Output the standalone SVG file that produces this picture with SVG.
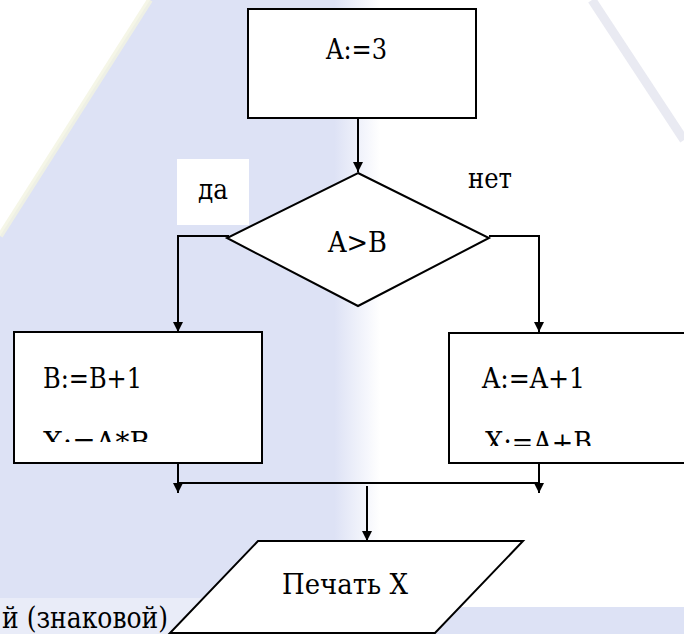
<svg xmlns="http://www.w3.org/2000/svg" width="684" height="634" viewBox="0 0 684 634">
  <style>
    .shape { fill: #ffffff; stroke: #000000; stroke-width: 2; }
    .conn { fill: none; stroke: #000000; stroke-width: 2; }
    text { font-family: 'DejaVu Serif', serif; font-size: 28px; fill: #000000; }
  </style>
  <defs>
    <marker id="arr" markerUnits="userSpaceOnUse" markerWidth="10" markerHeight="10" refX="10" refY="5" orient="auto">
      <path d="M0,0 L10,5 L0,10 z" fill="#000000"/>
    </marker>
    <clipPath id="clipL"><rect x="14" y="332" width="248" height="110"/></clipPath>
    <clipPath id="clipR"><rect x="449" y="333" width="235" height="113"/></clipPath>
    <linearGradient id="edgeL" x1="0" y1="0" x2="1" y2="0">
      <stop offset="0" stop-color="#dde2f5"/>
      <stop offset="0.88" stop-color="#dde2f5"/>
      <stop offset="1" stop-color="#dde2f5" stop-opacity="0"/>
    </linearGradient>
  </defs>

  <g id="background">
    <rect x="0" y="0" width="684" height="634" fill="#ffffff"/>
    <rect x="0" y="0" width="380" height="598" fill="url(#edgeL)"/>
    <rect x="0" y="598" width="380" height="36" fill="#e9ecf8"/>
    <rect x="370" y="607" width="314" height="27" fill="#dde2f5"/>
    <polygon points="0,0 150,0 0,236" fill="#ffffff"/>
    <line x1="150" y1="0" x2="0" y2="236" stroke="#f3f4e2" stroke-width="6" opacity="0.8"/>
    <line x1="592" y1="0" x2="684" y2="140" stroke="#e4e5ef" stroke-width="9" opacity="0.8"/>
  </g>

  <g id="connectors">
    <path class="conn" d="M358,118 V172" marker-end="url(#arr)"/>
    <path class="conn" d="M229,236 H178 V332" marker-end="url(#arr)"/>
    <path class="conn" d="M489,236 H539 V332" marker-end="url(#arr)"/>
    <path class="conn" d="M178,463 V493" marker-end="url(#arr)"/>
    <path class="conn" d="M539,463 V493" marker-end="url(#arr)"/>
    <path class="conn" d="M178,483 H539"/>
    <path class="conn" d="M367,486 V541" marker-end="url(#arr)"/>
  </g>

  <g id="label-da">
    <rect x="177" y="159" width="72" height="66" fill="#ffffff"/>
    <text x="198" y="199" textLength="30" lengthAdjust="spacingAndGlyphs">да</text>
  </g>
  <g id="label-net">
    <text x="468" y="188" textLength="44" lengthAdjust="spacingAndGlyphs">нет</text>
  </g>

  <g id="node-start">
    <rect class="shape" x="248" y="9" width="228" height="109"/>
    <text x="326" y="59" textLength="61" lengthAdjust="spacingAndGlyphs">A:=3</text>
  </g>

  <g id="node-cond">
    <polygon class="shape" points="358,173 489,238 358,306 227,238"/>
    <text x="328" y="252" textLength="59" lengthAdjust="spacingAndGlyphs">A&gt;B</text>
  </g>

  <g id="node-yes">
    <rect class="shape" x="14" y="332" width="248" height="131"/>
    <text x="43" y="388" textLength="99" lengthAdjust="spacingAndGlyphs">B:=B+1</text>
    <text x="43" y="452" textLength="107" lengthAdjust="spacingAndGlyphs" clip-path="url(#clipL)">X:=A*B</text>
  </g>

  <g id="node-no">
    <rect class="shape" x="449" y="333" width="250" height="130"/>
    <text x="482" y="388" textLength="103" lengthAdjust="spacingAndGlyphs">A:=A+1</text>
    <text x="485" y="452" textLength="107" lengthAdjust="spacingAndGlyphs" clip-path="url(#clipR)">X:=A+B</text>
  </g>

  <g id="caption">
    <text x="2" y="628" style="font-size:30px" textLength="166" lengthAdjust="spacingAndGlyphs">й (знаковой)</text>
  </g>

  <g id="node-print">
    <polygon class="shape" points="258,541 523,541 435,633 170,633"/>
    <text x="282" y="594" textLength="126" lengthAdjust="spacingAndGlyphs">Печать X</text>
  </g>
</svg>
